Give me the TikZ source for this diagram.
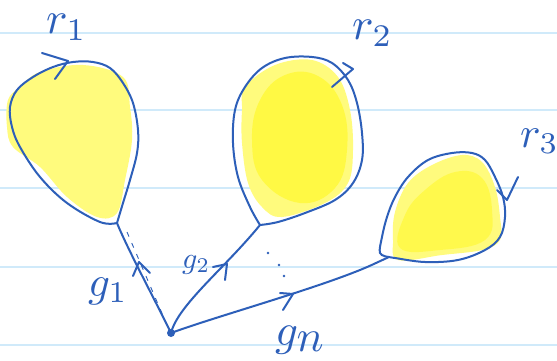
\documentclass[tikz,border=0pt]{standalone}
\usepackage{graphicx}
\usetikzlibrary{arrows.meta}
\definecolor{ink}{RGB}{45,95,185}
\definecolor{hl}{RGB}{255,251,125}
\definecolor{hlb}{RGB}{255,249,50}
\definecolor{rulec}{RGB}{208,234,250}
\begin{document}
\begin{tikzpicture}[x=1pt,y=-1pt,
  inkline/.style={draw=ink,line width=2pt,line cap=round,line join=round},
  chev/.style={draw=ink,line width=2pt,line cap=round,line join=round},
  lbl/.style={text=ink,inner sep=0pt,anchor=base west}]
\useasboundingbox (0,0) rectangle (557,361);
\fill[white] (0,0) rectangle (557,361);
\foreach \y in {33,110,188,267,345} \draw[rulec,line width=1.2pt] (0,\y) -- (557,\y);
% named points
\coordinate (t1) at (117,223);
\coordinate (t2) at (260,225);
\coordinate (t3) at (389,257);
% yellow fills
\fill[hl] plot[smooth cycle,tension=0.6] coordinates {(8,100) (20,87) (40,72) (83,65) (123,77) (130,107) (132,140) (125,180) (117,213) (97,217) (67,197) (40,167) (13,147) (7,127)};
\fill[hl] plot[smooth cycle,tension=0.6] coordinates {(245,87) (275,65) (312,60) (338,77) (350,110) (353,150) (348,183) (325,203) (282,217) (262,207) (248,183) (242,143) (242,110)};
\fill[hlb,opacity=0.75] plot[smooth cycle,tension=0.7] coordinates {(262,180) (252,140) (260,100) (285,75) (318,76) (342,105) (347,150) (335,188) (300,203)};
\fill[hl] plot[smooth cycle,tension=0.6] coordinates {(395,212) (408,183) (432,165) (462,155) (482,162) (495,187) (500,217) (500,240) (482,250) (442,255) (398,260) (393,240)};
\fill[hlb,opacity=0.65] plot[smooth cycle,tension=0.7] coordinates {(400,248) (405,215) (425,190) (455,172) (482,178) (492,210) (485,240) (440,250)};
% balloon outlines
\draw[inkline] plot[smooth,tension=0.6] coordinates {(117,223) (100,222) (67,203) (40,177) (20,147) (12,127) (10,107) (17,90) (33,77) (53,67) (73,62) (93,62) (110,68) (123,83) (133,103) (138,130) (137,153) (130,180) (123,203) (117,223)};
\draw[inkline] plot[smooth,tension=0.6] coordinates {(260,225) (250,207) (238,177) (233,143) (235,110) (245,87) (262,68) (285,58) (312,57) (332,63) (348,80) (357,103) (362,133) (362,160) (353,183) (335,200) (305,213) (278,222) (260,225)};
\draw[inkline] plot[smooth,tension=0.6] coordinates {(389,257) (395,258) (425,262) (458,260) (485,250) (500,237) (505,217) (503,197) (495,177) (485,160) (472,153) (452,153) (428,160) (408,177) (395,197) (387,217) (382,237) (380,253) (389,257)};
% loop arrows
\draw[chev] (42,53) -- (68,61) -- (55,79);
\draw[chev] (343,63) -- (353,69) -- (332,87);
\draw[chev] (497,190) -- (507,200) -- (518,177);
% base point and paths
\node[circle,fill=ink,inner sep=0pt,minimum size=8pt] (base) at (171,333) {};
\draw[inkline] (base.center) .. controls (155,300) and (128,250) .. (t1);
\draw[draw=ink,line width=0.9pt,dash pattern=on 5pt off 7pt] (127,232) -- (167,325);
\draw[inkline] (base.center) .. controls (178,305) and (225,268) .. (t2);
\draw[inkline] (base.center) .. controls (220,315) and (330,285) .. (376,263) -- (t3);
% path arrows
\draw[chev] (133,276) -- (139,262) -- (150,273);
\draw[chev] (213,267) -- (227,264) -- (225,280);
\draw[chev] (280,293) -- (293,294) -- (283,310);
% dots
\foreach \p in {(268,253),(279,265),(284,276)} \fill[ink] \p circle (1.4pt);
% labels
\node[lbl] (lr1) at (46,34) {\scalebox{4.5}{$r_{1}$}};
\node[lbl] (lr2) at (352,40) {\scalebox{4.5}{$r_{2}$}};
\node[lbl] (lr3) at (520,147) {\scalebox{4.3}{$r_{3}$}};
\node[lbl] (lg1) at (88,296) {\scalebox{4.3}{$g_{1}$}};
\node[lbl] (lg2) at (182,268) {\scalebox{3}{$g_{2}$}};
\node[lbl] (lgn) at (275,345) {\scalebox{4.5}{$g_{\textstyle n}$}};
\end{tikzpicture}
\end{document}
